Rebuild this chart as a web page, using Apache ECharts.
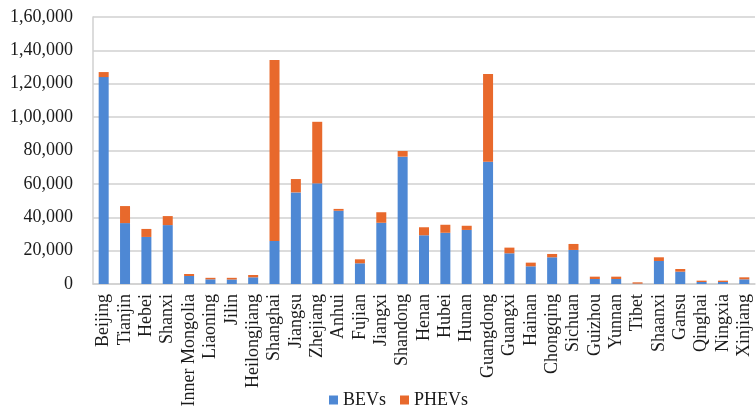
<!DOCTYPE html>
<html>
<head>
<meta charset="utf-8">
<script src="https://cdn.jsdelivr.net/npm/echarts@6/dist/echarts.min.js"></script>
<style>
  html, body { margin: 0; padding: 0; background: #fff; }
  #chart { width: 756px; height: 414px; }
</style>
</head>
<body>
<div id="chart"></div>
<script>
const provinces = ["Beijing", "Tianjin", "Hebei", "Shanxi", "Inner Mongolia", "Liaoning", "Jilin",
  "Heilongjiang", "Shanghai", "Jiangsu", "Zhejiang", "Anhui", "Fujian", "Jiangxi", "Shandong",
  "Henan", "Hubei", "Hunan", "Guangdong", "Guangxi", "Hainan", "Chongqing", "Sichuan", "Guizhou",
  "Yunnan", "Tibet", "Shaanxi", "Gansu", "Qinghai", "Ningxia", "Xinjiang"];
const bevs = [124000, 36500, 28200, 35300, 4800, 2800, 2700, 4000, 25800, 54900, 60300, 43900,
  12400, 36700, 76300, 29200, 30700, 32400, 73300, 18400, 10600, 16000, 20400, 3000,
  3000, 200, 13800, 7400, 1200, 1200, 2800];
const phevs = [3000, 10200, 4800, 5400, 1200, 900, 1000, 1400, 108400, 8000, 36900, 1100,
  2400, 6300, 3400, 4800, 4800, 2500, 52500, 3400, 2200, 2000, 3600, 1400,
  1400, 800, 2200, 1600, 800, 800, 1200];

// 1,60,000 style grouping
function indianFormat(v) {
  let s = String(Math.round(v));
  if (s.length <= 3) return s;
  let last3 = s.slice(-3);
  let rest = s.slice(0, -3);
  rest = rest.replace(/\B(?=(\d{2})+(?!\d))/g, ",");
  return rest + "," + last3;
}

const chart = echarts.init(document.getElementById("chart"));
const font = "'Liberation Serif', 'Times New Roman', serif";
chart.setOption({
  animation: false,
  grid: { left: 93, right: 1, top: 17, bottom: 130 },
  legend: {
    bottom: 0,
    left: 324,
    itemWidth: 9,
    itemHeight: 9,
    itemGap: 14,
    icon: "path://M0,0H10V10H0Z",
    itemStyle: { borderWidth: 0 },
    textStyle: { fontFamily: font, fontSize: 18, color: "#1a1a1a" },
    data: ["BEVs", "PHEVs"]
  },
  xAxis: {
    type: "category",
    data: provinces,
    axisLine: { lineStyle: { color: "#d0d0d0", width: 1.5 } },
    axisTick: { show: false },
    axisLabel: {
      rotate: 90,
      interval: 0,
      margin: 10,
      fontFamily: font,
      fontSize: 18,
      color: "#1a1a1a"
    }
  },
  yAxis: {
    type: "value",
    min: 0,
    max: 160000,
    interval: 20000,
    axisLine: { show: true, lineStyle: { color: "#d0d0d0", width: 1.5 } },
    axisTick: { show: false },
    splitLine: { lineStyle: { color: "#d0d0d0", width: 1.5 } },
    axisLabel: {
      formatter: indianFormat,
      margin: 20,
      fontFamily: font,
      fontSize: 18,
      color: "#1a1a1a"
    }
  },
  series: [
    {
      name: "BEVs",
      type: "bar",
      stack: "total",
      data: bevs,
      barWidth: 10,
      itemStyle: { color: "#4e88d4" }
    },
    {
      name: "PHEVs",
      type: "bar",
      stack: "total",
      data: phevs,
      barWidth: 10,
      itemStyle: { color: "#e8692c" }
    }
  ]
});
</script>
</body>
</html>
